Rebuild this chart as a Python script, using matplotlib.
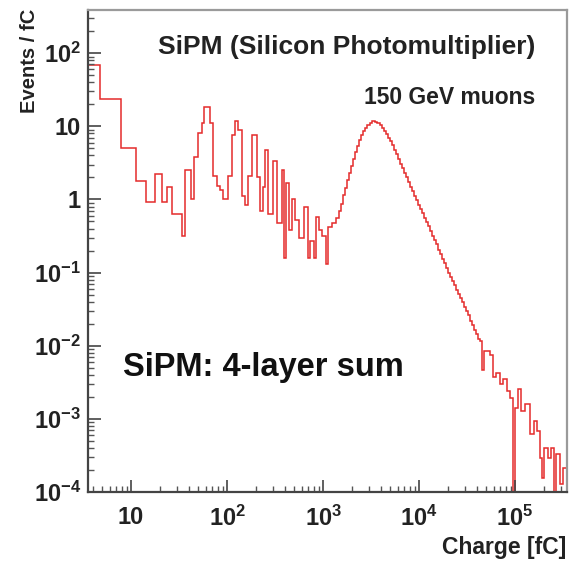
import matplotlib.pyplot as plt
from matplotlib.ticker import LogLocator, FixedLocator

# bin edges of the charge histogram (fC) and content per bin (events / fC)
edges = [3.56, 4.75, 7.87, 11.3, 14.3, 17.8, 21.0, 23.7, 26.7, 34.0, 36.5,
         42.2, 45.3, 49.9, 54.9, 57.6, 66.5, 71.5, 78.7, 84.5, 90.8, 102,
         113, 121, 130, 143, 154, 166, 182, 205, 221, 237, 249, 267, 302,
         332, 374, 393, 412, 442, 475, 511, 562, 634, 698, 733, 806, 846,
         908, 977, 1075, 1127, 1241, 1366, 1468, 1540, 1615, 1694, 1778,
         1866, 1957, 2054, 2154, 2259, 2371, 2487, 2610, 2738, 2872, 3090,
         3236, 3481, 3652, 3926, 4118, 4318, 4530, 4752, 4989, 5234, 5490,
         5759, 6041, 6339, 6652, 6977, 7320, 7680, 8054, 8450, 8866, 9300,
         9760, 10230, 10740, 11270, 11830, 12410, 13030, 13660, 14330,
         15040, 15780, 16560, 17380, 18230, 19120, 20060, 21040, 22080,
         23170, 24300, 25500, 26730, 28050, 29430, 30880, 32400, 33980,
         35640, 37400, 39250, 41210, 43150, 45290, 47520, 51050, 54900,
         59010, 63380, 69810, 75010, 82550, 88670, 95260, 100000, 107400,
         115500, 127100, 143200, 157700, 169400, 182000, 191000, 200400,
         220800, 237100, 254700, 267300, 294400, 316200, 347000]

counts = [68, 23.5, 5.0, 1.8, 0.91, 2.2, 0.91, 1.46, 0.64, 0.32, 2.5,
          1.0, 3.8, 8.0, 11, 18.3, 11, 2.1, 1.55, 1.33, 1.03, 2.1,
          7.5, 12, 8.8, 1.1, 0.83, 2.1, 7.5, 2.0, 0.7, 1.5, 4.7, 0.64, 3.4,
          0.47, 2.5, 0.16, 1.66, 0.38, 1.0, 0.53, 0.3, 0.78, 0.16, 0.27, 0.16,
          0.57, 0.38, 0.32, 0.13, 0.42, 0.48, 0.55, 0.7, 0.88, 1.15, 1.42,
          1.82, 2.3, 2.9, 3.6, 4.4, 5.3, 6.4, 7.5, 8.6, 9.6, 10.4,
          11.2, 11.7, 11.5, 11.0, 10.3, 9.5, 8.7, 7.8, 7.0, 6.2, 5.5,
          4.8, 4.2, 3.6, 3.1, 2.7, 2.3, 2.0, 1.75, 1.5, 1.3, 1.12,
          0.98, 0.85, 0.74, 0.66, 0.56, 0.49, 0.43, 0.37, 0.32,
          0.28, 0.245, 0.205, 0.18, 0.155, 0.135, 0.115, 0.1, 0.088,
          0.077, 0.068, 0.058, 0.051, 0.045, 0.039, 0.034, 0.030, 0.026,
          0.022, 0.019, 0.0165, 0.0146, 0.0125, 0.0117, 0.0046, 0.0086, 0.0084,
          0.0075, 0.0037, 0.0043, 0.003, 0.0035, 0.0024, 0.0019, 0, 0.0014,
          0.0026, 0.0013, 0.0016, 0.00062, 0.00094, 0.00069, 0.00029, 0.000156,
          0.0004, 0.00029, 0.0004, 0, 0.00033, 0.00013, 0.00021]

x_range = (3.56, 3.48e5)
y_range = (1e-4, 388)
x_ticks = [10, 1e2, 1e3, 1e4, 1e5]
x_labels = ['10', '$10^{2}$', '$10^{3}$', '$10^{4}$', '$10^{5}$']
y_ticks = [1e-4, 1e-3, 1e-2, 1e-1, 1, 10, 1e2]
y_labels = ['$10^{-4}$', '$10^{-3}$', '$10^{-2}$', '$10^{-1}$', '1', '10', '$10^{2}$']

plt.rcParams['font.family'] = ['Liberation Sans', 'DejaVu Sans']
plt.rcParams['font.weight'] = 'bold'
plt.rcParams['mathtext.fontset'] = 'custom'
plt.rcParams['mathtext.rm'] = 'Liberation Sans:bold'
plt.rcParams['mathtext.bf'] = 'Liberation Sans:bold'
plt.rcParams['mathtext.default'] = 'rm'

fig = plt.figure(figsize=(5.69, 5.61), dpi=100)
ax = fig.add_axes([0.1547, 0.123, 0.842, 0.859])

ax.stairs(counts, edges, baseline=1e-7, color='#e42b2b', linewidth=1.1)

ax.set_xscale('log')
ax.set_yscale('log', nonpositive='clip')
ax.set_xlim(*x_range)
ax.set_ylim(*y_range)

#ROOT style: ticks inside, only on left and bottom
ax.xaxis.set_major_locator(FixedLocator(x_ticks))
ax.set_xticklabels(x_labels)
ax.yaxis.set_major_locator(FixedLocator(y_ticks))
ax.set_yticklabels(y_labels)
ax.xaxis.set_minor_locator(LogLocator(base=10, subs=range(2, 10), numticks=20))
ax.yaxis.set_minor_locator(LogLocator(base=10, subs=range(2, 10), numticks=20))
ax.tick_params(which='major', direction='in', length=9, width=1.2, color='#444444',
               labelsize=17)
ax.tick_params(which='minor', direction='in', length=4.5, width=1.0, color='#555555')
ax.tick_params(axis='x', pad=10)
ax.tick_params(axis='y', pad=5)
for lbl in ax.get_xticklabels() + ax.get_yticklabels():
    lbl.set_color('#222222')

for side in ['left', 'bottom']:
    ax.spines[side].set_color('#444444')
    ax.spines[side].set_linewidth(1.6)
for side in ['top', 'right']:
    ax.spines[side].set_color('#9a9a9a')
    ax.spines[side].set_linewidth(1.6)

ax.text(0.933, 0.948, 'SiPM (Silicon Photomultiplier)', transform=ax.transAxes,
        ha='right', va='top', fontsize=19, color='#222222')
ax.text(0.933, 0.842, '150 GeV muons', transform=ax.transAxes,
        ha='right', va='top', fontsize=16.5, color='#222222')
ax.text(0.073, 0.258, 'SiPM: 4-layer sum', transform=ax.transAxes,
        ha='left', va='center', fontsize=23.5, color='#111111')

fig.text(0.036, 0.985, 'Events / fC', rotation=90, ha='left', va='top',
         fontsize=14.5, color='#222222')
fig.text(0.995, 0.004, 'Charge [fC]', ha='right', va='bottom',
         fontsize=16.5, color='#222222')

fig.savefig('out.png', dpi=100)
